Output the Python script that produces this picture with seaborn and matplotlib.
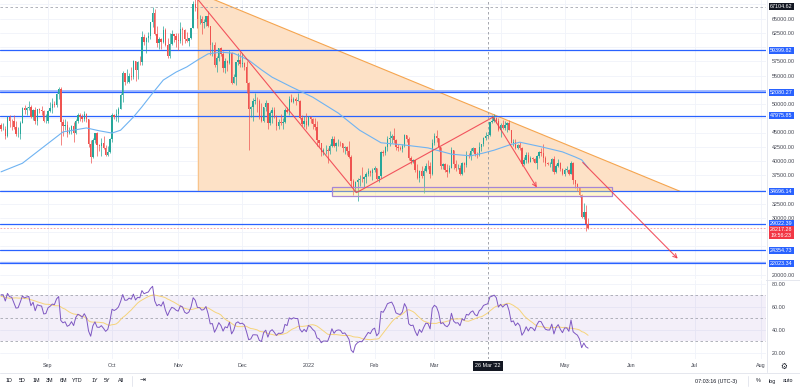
import numpy as np
import pandas as pd
import matplotlib
matplotlib.use("Agg")
import matplotlib.pyplot as plt
import matplotlib.dates as mdates
from matplotlib.patches import Polygon, Rectangle
import seaborn as sns

sns.set_theme(style="white")
plt.rcParams['font.family'] = ['Liberation Sans', 'DejaVu Sans']

# ---------------- data (prices in thousands USD) ----------------
pre_close = [33.6, 33.8, 34.7, 35.3, 33.7, 34.2, 33.9, 32.9, 33.8, 33.5, 34.3, 33.1, 32.7, 32.8,
             31.9, 31.4, 31.5, 31.8, 30.8, 29.8, 32.1, 32.3, 33.6, 34.3, 35.4, 37.3, 39.5, 40.0,
             40.0, 42.2, 41.6, 39.9, 39.2, 38.2, 39.7, 40.9, 42.8, 44.6, 43.8, 46.3]  # Jul 1 - Aug 9 2021

close_aug = [45.6, 45.6, 44.4, 47.8, 47.1, 47.0, 45.9, 44.7, 44.8, 46.7, 49.3, 48.9, 49.3, 49.5, 47.7, 48.9, 47.0, 49.1, 48.9, 48.8, 47.0, 47.1]
high_aug = [46.7, 46.7, 46.2, 47.9, 48.0, 47.4, 48.0, 47.1, 46.0, 47.0, 49.4, 49.8, 49.5, 50.5, 49.9, 49.2, 49.4, 49.2, 49.3, 49.6, 48.9, 48.2]
low_aug = [45.3, 45.5, 43.8, 44.2, 45.9, 45.5, 45.6, 44.4, 44.2, 43.9, 46.6, 48.3, 48.1, 49.0, 47.6, 47.2, 46.5, 46.4, 48.4, 48.1, 46.9, 46.7]

close_sep = [48.8, 49.3, 50.0, 49.9, 51.8, 52.7, 46.9, 46.1, 46.4, 44.9, 45.2, 46.1, 44.9, 47.1, 48.1, 47.8, 47.3, 48.3, 47.3, 43.0, 40.7, 43.6, 44.9, 42.8, 42.7, 43.2, 42.2, 41.0, 41.5, 43.8]
high_sep = [48.9, 50.4, 51.0, 50.5, 51.9, 52.9, 52.9, 47.3, 47.4, 47.0, 45.9, 46.4, 46.9, 47.3, 48.5, 48.5, 48.2, 48.8, 48.4, 47.3, 43.6, 44.0, 44.9, 45.1, 42.9, 44.0, 44.3, 42.8, 42.6, 44.1]
low_sep = [46.7, 48.6, 48.4, 49.5, 49.5, 50.9, 42.8, 44.4, 45.5, 44.2, 44.7, 44.8, 43.4, 44.7, 46.7, 47.0, 46.8, 47.1, 46.9, 42.5, 39.6, 40.6, 43.1, 40.9, 41.7, 40.9, 42.1, 40.9, 40.8, 41.4]

close_oct = [48.1, 47.7, 48.2, 49.1, 51.5, 55.4, 53.8, 53.9, 55.0, 54.7, 57.5, 56.0, 57.4, 57.3, 61.7, 60.9, 61.5, 62.0, 64.3, 66.0, 62.2, 60.7, 61.4, 60.9, 63.0, 60.4, 58.5, 60.6, 62.2, 61.9, 61.3]
high_oct = [48.4, 48.3, 49.2, 49.5, 51.9, 55.8, 55.5, 56.1, 55.5, 56.5, 57.8, 57.6, 57.6, 58.5, 62.8, 62.3, 61.7, 62.6, 64.4, 67.0, 66.6, 63.7, 61.7, 61.5, 63.7, 63.3, 61.5, 62.4, 62.9, 62.2, 62.4]
low_oct = [43.3, 47.4, 47.1, 46.9, 49.1, 50.4, 53.4, 53.6, 53.7, 54.2, 54.4, 54.0, 54.3, 56.9, 56.9, 60.3, 59.0, 60.8, 61.4, 63.5, 62.1, 60.0, 59.7, 59.6, 60.7, 60.1, 58.1, 58.0, 60.3, 60.8, 60.0]

close_nov = [61.0, 63.2, 62.9, 61.4, 61.0, 61.5, 63.3, 67.6, 66.9, 64.9, 64.9, 64.2, 64.4, 65.5, 63.6, 60.3, 60.4, 56.9, 58.1, 59.8, 58.7, 56.3, 57.6, 57.2, 58.9, 53.6, 54.8, 57.3, 57.8, 57.0]
high_nov = [62.4, 64.3, 63.5, 63.1, 62.6, 61.6, 63.3, 68.0, 68.5, 69.0, 65.6, 65.4, 65.0, 65.5, 66.3, 63.6, 60.8, 60.9, 58.4, 59.8, 60.0, 59.3, 58.0, 57.8, 59.4, 59.2, 55.3, 57.4, 58.9, 59.2]
low_nov = [59.4, 60.7, 60.4, 60.7, 60.8, 60.2, 61.4, 63.3, 66.4, 63.3, 64.1, 62.3, 63.4, 63.6, 63.5, 58.6, 58.4, 56.5, 55.6, 57.5, 58.5, 55.7, 55.5, 55.8, 57.0, 53.5, 53.6, 53.3, 56.8, 56.5]

close_dec = [57.2, 56.5, 53.6, 49.2, 49.4, 50.6, 50.6, 50.5, 47.7, 47.1, 49.4, 50.1, 46.7, 48.4, 48.9, 47.7, 46.2, 46.8, 46.7, 46.9, 49.0, 48.6, 50.8, 50.4, 50.8, 50.6, 50.6, 47.5, 46.5, 47.1, 46.3]
high_dec = [59.0, 57.4, 57.6, 53.9, 49.7, 51.0, 51.9, 51.2, 50.8, 50.1, 49.5, 50.7, 50.2, 48.7, 49.5, 49.4, 48.0, 47.3, 48.3, 47.5, 49.3, 49.5, 51.4, 51.8, 51.2, 51.2, 52.0, 50.7, 48.1, 47.9, 48.5]
low_dec = [56.5, 55.9, 52.0, 42.0, 47.8, 47.1, 50.0, 48.6, 47.3, 46.9, 46.8, 48.7, 45.7, 46.3, 46.6, 47.6, 45.5, 45.7, 46.4, 45.6, 46.6, 48.4, 48.0, 50.3, 50.2, 49.9, 50.5, 47.3, 46.2, 46.0, 45.7]

close_jan = [47.7, 47.3, 46.5, 45.9, 43.6, 43.2, 41.6, 41.9, 41.9, 41.8, 42.7, 43.9, 42.6, 43.1, 43.2, 43.1, 42.3, 42.4, 41.7, 40.7, 36.5, 35.1, 36.3, 36.7, 36.9, 36.8, 37.2, 37.7, 38.2, 37.9, 38.5]
high_jan = [47.9, 47.9, 47.6, 47.5, 47.0, 43.7, 43.1, 42.3, 42.8, 42.2, 43.0, 44.3, 44.3, 43.4, 43.8, 43.5, 43.2, 42.7, 42.6, 43.5, 41.1, 36.8, 36.5, 37.0, 37.5, 38.9, 37.3, 38.0, 38.7, 38.4, 38.7]
low_jan = [46.2, 46.7, 45.7, 45.5, 42.6, 42.5, 40.8, 41.0, 41.3, 39.7, 41.3, 42.5, 42.4, 41.8, 42.6, 42.6, 41.6, 41.3, 41.1, 40.6, 35.5, 34.0, 34.6, 33.0, 35.7, 36.4, 35.5, 36.2, 37.4, 37.4, 36.6]

close_feb = [38.7, 36.9, 37.3, 41.6, 41.4, 42.4, 43.8, 44.1, 44.3, 43.6, 42.4, 42.2, 42.1, 42.6, 44.6, 43.9, 40.5, 40.0, 40.1, 38.4, 37.0, 38.2, 37.3, 38.3, 39.2, 39.1, 37.7, 43.2]
high_feb = [39.2, 38.8, 37.4, 41.7, 41.9, 42.6, 44.4, 45.3, 44.8, 45.8, 43.9, 42.9, 42.7, 42.9, 44.7, 44.6, 44.2, 40.9, 40.4, 40.1, 39.5, 38.4, 39.2, 38.8, 39.7, 40.1, 39.8, 43.8]
low_feb = [38.0, 36.6, 36.3, 37.0, 40.9, 41.1, 41.8, 42.7, 43.2, 43.2, 42.0, 41.8, 41.9, 41.6, 42.4, 43.3, 40.1, 39.5, 39.7, 38.0, 36.8, 36.4, 37.1, 34.3, 38.0, 38.6, 37.1, 37.5]

close_mar = [44.4, 44.0, 42.5, 39.1, 39.4, 38.4, 38.0, 38.7, 41.9, 39.4, 38.7, 38.8, 37.8, 39.7, 39.3, 41.1, 40.9, 41.8, 42.2, 41.3, 41.0, 42.4, 42.9, 44.0, 44.3, 44.5, 46.8, 47.1, 47.5, 47.1, 45.5]
high_mar = [44.9, 45.4, 44.1, 42.5, 39.6, 39.6, 39.4, 39.3, 42.5, 42.0, 40.2, 39.4, 39.3, 39.9, 39.9, 41.7, 41.4, 42.3, 42.4, 42.3, 41.5, 43.4, 43.0, 44.2, 45.1, 44.8, 46.9, 48.1, 48.2, 47.7, 47.6]
low_mar = [42.8, 43.3, 41.8, 38.6, 38.6, 38.1, 37.2, 37.9, 38.7, 38.6, 38.2, 38.6, 37.6, 37.6, 38.1, 38.9, 40.5, 40.2, 41.5, 40.9, 40.5, 40.9, 41.8, 42.6, 43.6, 44.1, 44.4, 46.6, 46.9, 46.6, 45.2]

close_apr = [46.3, 45.8, 46.4, 46.6, 45.5, 43.2, 43.4, 42.3, 42.8, 42.2, 39.5, 40.1, 41.1, 39.9, 40.6, 40.4, 39.7, 40.8, 41.5, 41.4, 40.5, 39.7, 39.5, 39.5, 40.4, 38.1, 39.2, 39.7, 38.6, 37.7]
high_apr = [46.7, 47.2, 47.0, 46.9, 47.2, 45.5, 43.9, 43.9, 42.9, 43.4, 42.4, 40.7, 41.5, 41.5, 40.9, 40.7, 40.6, 41.0, 41.7, 42.2, 42.9, 40.8, 39.8, 39.9, 40.6, 40.8, 39.5, 40.4, 39.9, 38.8]
low_apr = [44.2, 45.6, 45.5, 45.1, 45.4, 43.1, 42.7, 42.1, 42.1, 42.0, 39.2, 39.3, 39.6, 39.6, 39.8, 40.0, 39.6, 38.6, 40.6, 40.9, 39.8, 39.2, 39.3, 39.0, 38.2, 37.7, 37.9, 38.9, 38.2, 37.6]

close_may = [38.5, 38.5, 37.7, 39.7, 36.6, 36.0, 35.5, 34.1, 30.1, 31.0, 29.0, 28.2]
high_may = [38.7, 39.1, 38.6, 40.0, 39.8, 36.6, 36.1, 35.5, 34.2, 32.6, 32.2, 30.0]
low_may = [37.4, 38.1, 37.6, 37.7, 35.9, 35.3, 34.8, 33.7, 30.0, 29.8, 27.8, 28.0]

# moving average
ma_dates = ['2021-08-10', '2021-08-20', '2021-08-30', '2021-09-08', '2021-09-19', '2021-09-25',
            '2021-10-01', '2021-10-05', '2021-10-11', '2021-10-15', '2021-10-20', '2021-10-25',
            '2021-10-31', '2021-11-05', '2021-11-10', '2021-11-15', '2021-11-21', '2021-11-27',
            '2021-12-04', '2021-12-10', '2021-12-15', '2021-12-24', '2022-01-03', '2022-01-15',
            '2022-01-25', '2022-02-04', '2022-02-15', '2022-02-26', '2022-03-09', '2022-03-18',
            '2022-03-24', '2022-03-29', '2022-04-05', '2022-04-10', '2022-04-20', '2022-04-30',
            '2022-05-06', '2022-05-09', '2022-05-12']
ma_values = [38.1, 39.6, 42.5, 45.1, 45.8, 45.3, 44.9, 45.4, 47.7, 49.5, 51.9, 54.2,
             55.6, 56.5, 57.7, 58.8, 59.1, 58.9, 57.7, 56.0, 54.7, 53.0, 51.2, 48.4,
             45.4, 43.2, 42.8, 42.3, 41.2, 40.9, 41.4, 41.9, 42.8, 43.3, 42.5, 41.6,
             40.7, 40.2, 38.8]

levels = [59399.82, 52080.27, 47975.85, 34696.14, 29022.39, 24354.73, 22023.34]
ath_level = 67104.62
last_price = 28217.28
countdown = "19:56:23"
price_ticks = [20000, 30000, 32500, 37500, 40000, 42500, 45000, 50000,
               55000, 57500, 62500, 65000]   # labels not covered by the level boxes
month_labels = ['Sep', 'Oct', 'Nov', 'Dec', '2022', 'Feb', 'Mar', '', 'May', 'Jun', 'Jul', 'Aug']
range_buttons = ['1D', '5D', '1M', '3M', '6M', 'YTD', '1Y', '5Y', 'All']

# ---------------- assemble ----------------
close = (close_aug + close_sep + close_oct + close_nov + close_dec + close_jan + close_feb +
         close_mar + close_apr + close_may)
high = (high_aug + high_sep + high_oct + high_nov + high_dec + high_jan + high_feb +
        high_mar + high_apr + high_may)
low = (low_aug + low_sep + low_oct + low_nov + low_dec + low_jan + low_feb +
       low_mar + low_apr + low_may)
c = np.array(close) * 1000
h = np.array(high) * 1000
l = np.array(low) * 1000
o = np.concatenate([[pre_close[-1] * 1000], c[:-1]])
dates = pd.date_range('2021-08-10', periods=len(c), freq='D')
xd = mdates.date2num(dates)

# RSI 14 (Wilder) on full close history
allc = np.array(pre_close + close) * 1000
dd = np.diff(allc)
gain = np.clip(dd, 0, None)
loss = np.clip(-dd, 0, None)
n = 14
rsi_full = np.full(len(allc), np.nan)
ag, al = gain[:n].mean(), loss[:n].mean()
rsi_full[n] = 100 - 100 / (1 + ag / al)
for i in range(n, len(dd)):
    ag = (ag * (n - 1) + gain[i]) / n
    al = (al * (n - 1) + loss[i]) / n
    rsi_full[i + 1] = 100 - 100 / (1 + ag / al)
rsi_ma_full = pd.Series(rsi_full).rolling(14).mean().values
k = len(pre_close)
rsi = rsi_full[k:]
rsi_ma = rsi_ma_full[k:]

# ---------------- figure ----------------
W, H = 800, 389
fig = plt.figure(figsize=(8, 3.89), dpi=100)
fig.patch.set_facecolor('white')
ax = fig.add_axes([0, 1 - 279 / H, 766 / W, 279 / H])
rx = fig.add_axes([0, 1 - 359 / H, 766 / W, 79 / H], sharex=ax)

ppd = 2.1347
x0 = mdates.date2num(pd.Timestamp('2021-09-01')) - 48 / ppd
x1 = x0 + 766 / ppd
ax.set_xlim(x0, x1)
ax.set_ylim(40000 - (279 - 161) / 0.0057, 40000 + 161 / 0.0057)
rx.set_ylim(20 - (359 - 352.7) / 1.145, 80 + (284 - 280) / 1.145)

for a in (ax, rx):
    for s in a.spines.values():
        s.set_visible(False)
    a.set_facecolor('white')

grid_c = '#F0F3FA'
months = mdates.date2num(pd.date_range('2021-09-01', '2022-08-01', freq='MS'))
rx.set_xticks(months)
rx.set_xticklabels(month_labels)
ax.tick_params(axis='x', labelbottom=False, length=0)
rx.tick_params(axis='x', length=0, pad=3.2, labelsize=3.9, labelcolor='#434651')
for a in (ax, rx):
    a.grid(axis='x', color=grid_c, lw=0.6)

# horizontal grid every 2500, labels only where the reference shows them
for gv in np.arange(20000, 67501, 2500):
    ax.axhline(gv, color=grid_c, lw=0.6, zorder=0)
ax.yaxis.tick_right()
ax.set_yticks(price_ticks)
ax.set_yticklabels([f'{v:.2f}' for v in price_ticks])
ax.tick_params(axis='y', length=0, pad=4.3, labelsize=3.9, labelcolor='#434651')

rx.yaxis.tick_right()
rx.set_yticks([20, 40, 60, 80])
rx.set_yticklabels(['20.00', '40.00', '60.00', '80.00'])
rx.tick_params(axis='y', length=0, pad=4.3, labelsize=3.9, labelcolor='#434651')
rx.grid(axis='y', color=grid_c, lw=0.6)

# descending triangle
t_left = mdates.date2num(pd.Timestamp('2021-11-10 02:00'))
t_right = mdates.date2num(pd.Timestamp('2022-06-24'))
tri = Polygon([[t_left, 69500], [t_right, 34696.14], [t_left, 34696.14]], closed=True,
              facecolor='#FDE1C6', edgecolor='none', zorder=1)
ax.add_patch(tri)
ax.plot([t_left, t_right], [69500, 34696.14], color='#F5A54F', lw=0.8, zorder=2)
ax.plot([t_left, t_left], [34696.14, 69500], color='#F8C48C', lw=0.8, zorder=2)

# level lines
for lv in levels:
    if lv in (52080.27, 22023.34):
        ax.axhline(lv + 150, color='#9DB5FF', lw=1.3, zorder=2)
    ax.axhline(lv, color='#2962FF', lw=0.9, zorder=3)
ax.axhline(ath_level, color='#A3A6AF', lw=0.6, ls=(0, (3, 3)), zorder=2)
ax.axhline(last_price, color='#F7525F', lw=0.6, ls=(0, (2, 2)), alpha=0.6, zorder=2)

# candles
up = c >= o
cols = np.where(up, '#26A69A', '#EF5350')
ax.vlines(xd, l, h, colors=cols, lw=0.5, zorder=4)
body = np.maximum(np.abs(c - o), 60)
ax.bar(xd, body, bottom=np.minimum(o, c), width=0.65, color=cols, lw=0, zorder=5)

# moving average
ma_df = pd.DataFrame({'x': mdates.date2num(pd.to_datetime(ma_dates)),
                      'y': np.array(ma_values) * 1000})
sns.lineplot(data=ma_df, x='x', y='y', ax=ax, color='#6FB3F2', lw=0.8, zorder=6)

# support rectangle
r_l = mdates.date2num(pd.Timestamp('2022-01-12'))
r_r = mdates.date2num(pd.Timestamp('2022-05-23'))
ax.add_patch(Rectangle((r_l, 33930), r_r - r_l, 35510 - 33930, facecolor=(1.0, 0.90, 0.45, 0.35),
                       edgecolor='#A586D6', lw=0.9, zorder=7))

# red swing lines
red = '#F03A4A'
def dnum(s):
    return mdates.date2num(pd.Timestamp(s))
p1 = (dnum('2021-11-10 02:00'), 68400)
p2 = (dnum('2022-01-23 12:00'), 34450)
p3 = (dnum('2022-03-28 12:00'), 47700)
p4 = (dnum('2022-04-18'), 35350)
p5 = (dnum('2022-05-09 12:00'), 39750)
p6 = (dnum('2022-06-23'), 22870)
ax.plot([p1[0], p2[0], p3[0]], [p1[1], p2[1], p3[1]], color=red, lw=0.8, alpha=0.85, zorder=8)
for a_, b_ in ((p3, p4), (p5, p6)):
    ax.annotate('', xy=b_, xytext=a_,
                arrowprops=dict(arrowstyle='->', color=red, lw=0.8, alpha=0.85,
                                mutation_scale=7, shrinkA=0, shrinkB=0), zorder=8)

# crosshair
xc = dnum('2022-03-26')
for a in (ax, rx):
    a.axvline(xc, color='#9598A1', lw=0.6, ls=(0, (3, 3)), zorder=9)

# right-side value boxes
ytr = ax.get_yaxis_transform()
bx = 1 + 4.2 / 766
for lv in levels:
    ax.text(bx, lv, f'{lv:.2f}', transform=ytr, ha='left', va='center', fontsize=3.9,
            color='white', clip_on=False, zorder=20,
            bbox=dict(boxstyle='square,pad=0.2', fc='#2962FF', ec='none'))
ax.text(bx, ath_level, f'{ath_level:.2f}', transform=ytr, ha='left', va='center', fontsize=3.9,
        color='white', clip_on=False, zorder=20,
        bbox=dict(boxstyle='square,pad=0.2', fc='#131722', ec='none'))
ax.annotate(f'{last_price:.2f}\n{countdown}', xy=(bx, last_price), xycoords=ytr,
            xytext=(0, -3.0), textcoords='offset points', ha='left', va='center',
            fontsize=3.9, color='white', linespacing=1.2, annotation_clip=False, zorder=21,
            bbox=dict(boxstyle='square,pad=0.2', fc='#F23645', ec='none'))

# RSI pane
rx.axhspan(30, 70, color='#7E57C2', alpha=0.09, lw=0, zorder=1)
for lv in (70, 50, 30):
    rx.axhline(lv, color='#A3A6AF', lw=0.6, ls=(0, (3, 3)), zorder=2)
rsi_df = pd.DataFrame({'x': xd, 'rsi': rsi, 'ma': rsi_ma})
sns.lineplot(data=rsi_df, x='x', y='ma', ax=rx, color='#F6D47A', lw=0.7, zorder=3)
sns.lineplot(data=rsi_df, x='x', y='rsi', ax=rx, color='#7E57C2', lw=0.7, zorder=4)
for a in (ax, rx):
    a.set_xlabel('')
    a.set_ylabel('')
rx.text(xc, -0.088, "26 Mar '22", transform=rx.get_xaxis_transform(), ha='center', va='center',
        fontsize=3.9, color='white', clip_on=False, zorder=20,
        bbox=dict(boxstyle='square,pad=0.4', fc='#131722', ec='none'))

# frame lines and bottom toolbar
ov = fig.add_axes([0, 0, 1, 1], zorder=-1)
ov.set_xlim(0, W)
ov.set_ylim(H, 0)
ov.axis('off')
ov.plot([766.5, 766.5], [0, 372], color='#E0E3EB', lw=0.6)
ov.plot([0, W], [279.5, 279.5], color='#E0E3EB', lw=0.6)
ov.plot([0, W], [372.5, 372.5], color='#E0E3EB', lw=0.6)
ov.plot([132, 132], [376, 386], color='#E0E3EB', lw=0.6)
ov.plot([748, 748], [376, 386], color='#E0E3EB', lw=0.6)
for (rx0, rw) in ((735, 8), (746, 8), (757, 8)):
    ov.add_patch(Rectangle((rx0, -2), rw, 5, facecolor='white', edgecolor='#E0E3EB', lw=0.5))

bx_pos = [9.3, 22.7, 36.7, 50, 63.3, 77.3, 95, 107.3, 120.7]
for t, xp in zip(range_buttons, bx_pos):
    fig.text(xp / W, 1 - 380.5 / H, t, ha='center', va='center', fontsize=3.9, color='#131722')
fig.text(143 / W, 1 - 380.5 / H, '\u21e5', ha='center', va='center', fontsize=5,
         color='#131722', family=['DejaVu Sans'])
fig.text(716 / W, 1 - 381 / H, '07:03:16 (UTC-3)', ha='center', va='center', fontsize=3.9,
         color='#131722')
fig.text(758 / W, 1 - 381 / H, '%', ha='center', va='center', fontsize=3.9, color='#131722')
fig.text(772 / W, 1 - 381 / H, 'log', ha='center', va='center', fontsize=3.9, color='#131722')
fig.text(788 / W, 1 - 381 / H, 'auto', ha='center', va='center', fontsize=3.9, color='#131722')
fig.text(784 / W, 1 - 366 / H, '\u2699', ha='center', va='center', fontsize=5.5,
         color='#131722', family=['DejaVu Sans'])

fig.savefig('out.png', dpi=100, facecolor='white')
